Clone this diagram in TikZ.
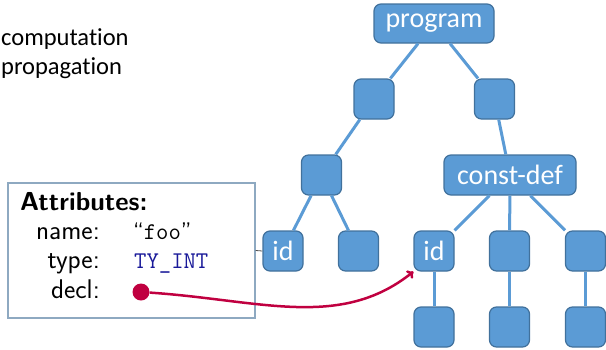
\documentclass[tikz,border=0pt]{standalone}
\usepackage{fontspec}
\setmainfont{Carlito}[Ligatures=NoCommon]
\usepackage{tikz}
\usetikzlibrary{arrows.meta}
\definecolor{nodeblue}{HTML}{5B9BD5}
\definecolor{nodeline}{HTML}{41719C}
\definecolor{linkred}{HTML}{C00040}
\definecolor{tyblue}{rgb}{0.1,0.1,0.6}
\definecolor{boxframe}{HTML}{8EA9C1}

\begin{document}
\begin{tikzpicture}[x=1pt, y=-1pt,
        treenode/.style={rectangle, rounded corners=7pt, fill=nodeblue, draw=nodeline, line width=1.2pt,
            minimum width=40pt, minimum height=40pt, inner sep=2pt, text=white, font=\fontsize{28}{30}\selectfont},
        treeedge/.style={nodeblue, line width=3pt},
        attrtext/.style={font=\sffamily\fontsize{27}{30}\selectfont, inner sep=0pt}]
        \useasboundingbox (0,0) rectangle (606,349);

        \node[anchor=base west, inner sep=0pt, font=\fontsize{24.5}{28}\selectfont] (comp) at (1,45) {computation};
        \node[anchor=base west, inner sep=0pt, font=\fontsize{24.5}{28}\selectfont] (prop) at (1,74) {propagation};

        \node[treenode, minimum width=120pt, minimum height=39pt] (program) at (434,23.5) {program};
        \node[treenode] (U1) at (374,99) {};
        \node[treenode] (U2) at (494.5,99) {};
        \node[treenode] (M1) at (321.5,175) {};
        \node[treenode, minimum width=132pt] (constdef) at (510,175) {const-def};
        \node[treenode] (id1) at (283,251) {id};
        \node[treenode] (E1) at (358.5,251) {};
        \node[treenode] (id2) at (434,251) {id};
        \node[treenode] (E2) at (509.5,251) {};
        \node[treenode] (E3) at (585.5,251) {};
        \node[treenode] (B1) at (434,327) {};
        \node[treenode] (B2) at (509.5,327) {};
        \node[treenode] (B3) at (585.5,327) {};

        \draw[treeedge] (program) -- (U1);
        \draw[treeedge] (program) -- (U2);
        \draw[treeedge] (U1) -- (M1);
        \draw[treeedge] (U2) -- (constdef);
        \draw[treeedge] (M1) -- (id1);
        \draw[treeedge] (M1) -- (E1);
        \draw[treeedge] (constdef) -- (id2);
        \draw[treeedge] (constdef) -- (E2);
        \draw[treeedge] (constdef) -- (E3);
        \draw[treeedge] (id2) -- (B1);
        \draw[treeedge] (E2) -- (B2);
        \draw[treeedge] (E3) -- (B3);

        % attribute record of the left id
        \node[draw=boxframe, line width=1.2pt, fill=white, minimum width=247pt, minimum height=135pt, inner sep=0pt] (attrbox) at (131.5,250.5) {};
        \draw[black!70, line width=0.8pt] (attrbox.east) -- (id1.west);
        \node[attrtext, anchor=base west, font=\sffamily\bfseries\fontsize{26}{30}\selectfont] (attrhead) at (20,210) {Attributes:};
        \node[attrtext, anchor=base east] (namelbl) at (100,239) {name:};
        \node[attrtext, anchor=base east] (typelbl) at (100,268) {type:};
        \node[attrtext, anchor=base east] (decllbl) at (100,298) {decl:};
        \node[attrtext, anchor=base west, font=\ttfamily\fontsize{24}{28}\selectfont] (nameval) at (133,239) {{\sffamily “}foo{\sffamily ”}};
        \node[attrtext, anchor=base west, font=\ttfamily\fontsize{24}{28}\selectfont, text=tyblue] (typeval) at (134,268) {TY\_INT};
        \node[circle, fill=linkred, minimum size=17pt, inner sep=0pt] (declpt) at (141,292) {};

        \draw[linkred, line width=2.5pt, -{To[length=6pt, width=10pt]}] (declpt) .. controls (260,300) and (340,330) .. (id2.south west);
    \end{tikzpicture}
\end{document}
